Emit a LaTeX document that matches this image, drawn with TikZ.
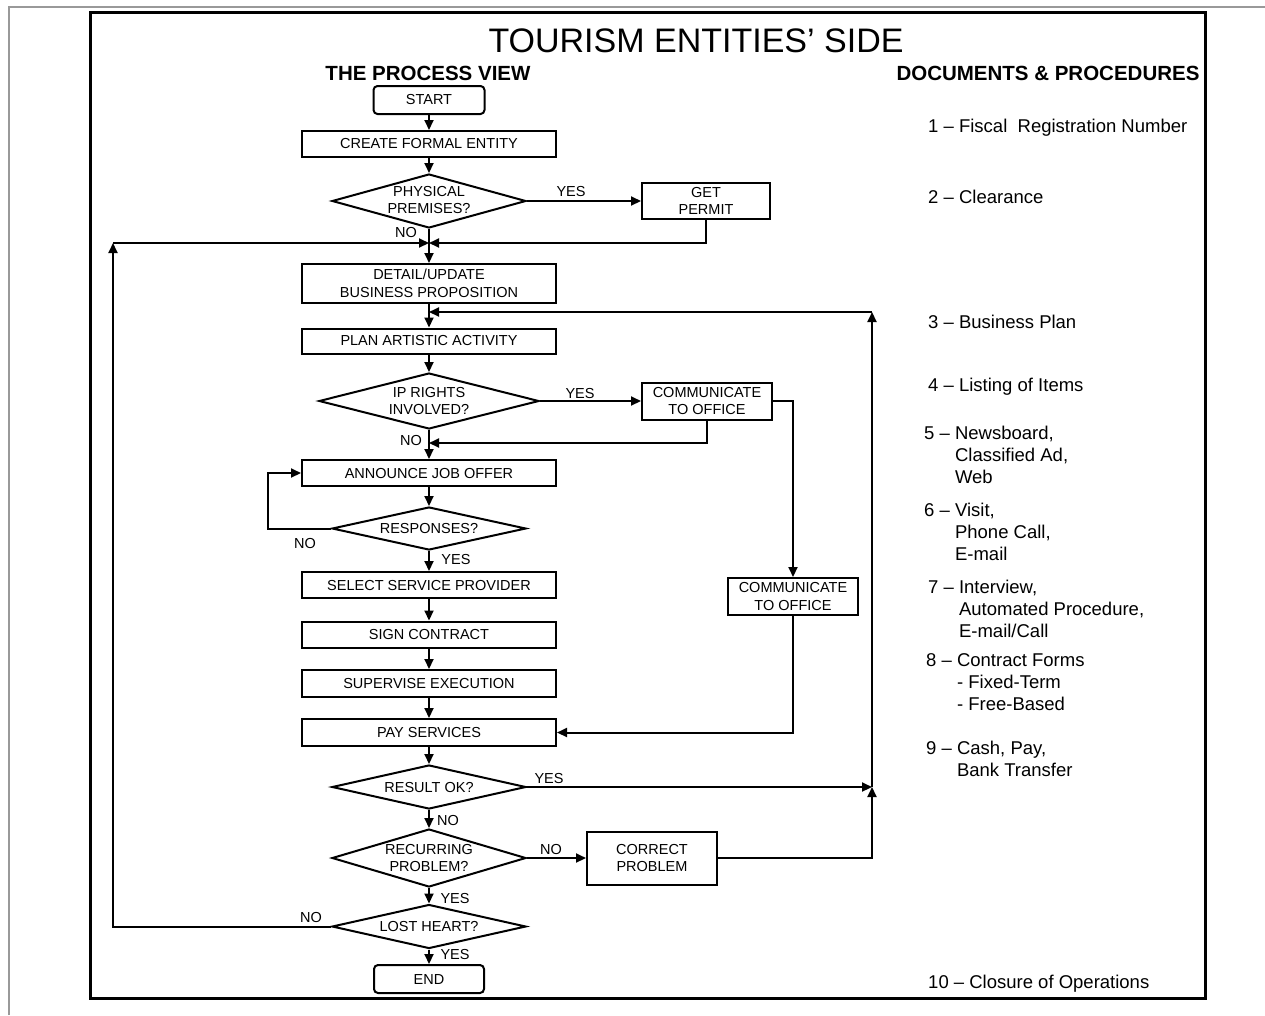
\documentclass[tikz,border=0pt]{standalone}
\usepackage{fontspec}
\setmainfont{Liberation Sans}
\usetikzlibrary{arrows.meta,shapes.geometric}
\newcommand\bxf{\fontsize{14.5}{17.5}\selectfont}
\newcommand\rcf{\fontsize{18.5}{22}\selectfont}
\begin{document}
\begin{tikzpicture}[x=1pt,y=-1pt,
  ln/.style={line width=2pt},
  arr/.style={ln,-{Triangle[length=10pt,width=9pt]}},
  box/.style 2 args={draw,ln,rectangle,inner sep=0pt,minimum width=#1pt,minimum height=#2pt,align=center,font=\bxf},
  term/.style 2 args={box={#1}{#2},rounded corners=4pt},
  dec/.style 2 args={draw,ln,diamond,inner sep=0pt,minimum width=#1pt,minimum height=#2pt},
  dtxt/.style={font=\bxf,align=center,inner sep=0pt},
  yn/.style={font=\bxf,inner sep=0pt},
  doc/.style={font=\rcf,align=left,anchor=base west,inner sep=0pt},
]
\useasboundingbox (0,0) rectangle (1265,1015);
\fill[white] (0,0) rectangle (1265,1015);
\draw[line width=2pt,gray!80] (9,1015) -- (9,7) -- (1265,7);
\draw[line width=3pt] (90,12) rectangle (1205,998);

% headings
\node[font=\fontsize{34}{40}\selectfont,anchor=base,inner sep=0pt] (title) at (696,52) {TOURISM ENTITIES’ SIDE};
\node[font=\fontsize{20.5}{24}\selectfont\bfseries,anchor=base,inner sep=0pt] (hproc) at (428,80) {THE PROCESS VIEW};
\node[font=\fontsize{20.5}{24}\selectfont\bfseries,anchor=base,inner sep=0pt] (hdoc) at (1048,80) {DOCUMENTS \& PROCEDURES};

% process nodes
\node[term={111}{28}] (start) at (429,100) {START};
\node[box={254}{26}] (create) at (429,144) {CREATE FORMAL ENTITY};
\node[dec={194}{54}] (phys) at (429,201) {};
\node[dtxt] (physT) at ([yshift=1pt]phys.center) {PHYSICAL\\PREMISES?};
\node[box={128}{36}] (permit) at (706,201) {GET\\PERMIT};
\node[box={254}{39}] (detail) at (429,283.5) {DETAIL/UPDATE\\BUSINESS PROPOSITION};
\node[box={254}{25}] (plan) at (429,341) {PLAN ARTISTIC ACTIVITY};
\node[dec={220}{56}] (ip) at (429,401) {};
\node[dtxt] (ipT) at (ip.center) {IP RIGHTS\\INVOLVED?};
\node[box={130}{37}] (comm1) at (707,401) {COMMUNICATE\\TO OFFICE};
\node[box={254}{26}] (announce) at (429,473) {ANNOUNCE JOB OFFER};
\node[dec={194}{43}] (resp) at (429,528.5) {};
\node[dtxt] (respT) at (resp.center) {RESPONSES?};
\node[box={254}{26}] (select) at (429,585) {SELECT SERVICE PROVIDER};
\node[box={254}{26}] (sign) at (429,634.5) {SIGN CONTRACT};
\node[box={254}{27}] (superv) at (429,683.5) {SUPERVISE EXECUTION};
\node[box={254}{27}] (pay) at (429,732.5) {PAY SERVICES};
\node[box={130}{37}] (comm2) at (793,596.5) {COMMUNICATE\\TO OFFICE};
\node[dec={194}{44}] (result) at (429,787) {};
\node[dtxt] (resultT) at (result.center) {RESULT OK?};
\node[dec={194}{58}] (recur) at (429,858) {};
\node[dtxt] (recurT) at (recur.center) {RECURRING\\PROBLEM?};
\node[box={130}{53}] (correct) at (652,858) {CORRECT\\PROBLEM};
\node[dec={194}{44}] (lost) at (429,926.5) {};
\node[dtxt] (lostT) at (lost.center) {LOST HEART?};
\node[term={110}{28}] (end) at (429,979) {END};

% helper coordinates
\coordinate (j1) at (429,243);
\coordinate (cl) at (113,243);
\coordinate (cb) at (113,926.5);
\coordinate (j2) at (429,312);
\coordinate (rt) at (872,312);
\coordinate (rm) at (872,787);
\coordinate (j3) at (429,443);
\coordinate (lp) at (268,473);

% connectors
\draw[arr] (start) -- (create);
\draw[arr] (create) -- (phys);
\draw[arr] (phys.east) -- (permit.west);
\draw[arr] (phys.south) -- (detail.north);
\draw[arr] (permit.south) |- (j1);
\draw[arr] (lost.west) -- (cb) -- (cl);
\draw[arr] (cl) -- (j1);
\draw[arr] (detail) -- (plan);
\draw[arr] (rm) -- (rt);
\draw[arr] (rt) -- (j2);
\draw[arr] (plan) -- (ip);
\draw[arr] (ip.east) -- (comm1.west);
\draw[arr] (ip.south) -- (announce.north);
\draw[arr] (comm1.south) |- (j3);
\draw[arr] (comm1.east) -| (comm2.north);
\draw[arr] (comm2.south) |- (pay.east);
\draw[arr] (announce) -- (resp);
\draw[arr] (resp.west) -| (lp) -- (announce.west);
\draw[arr] (resp) -- (select);
\draw[arr] (select) -- (sign);
\draw[arr] (sign) -- (superv);
\draw[arr] (superv) -- (pay);
\draw[arr] (pay) -- (result);
\draw[arr] (result.east) -- (rm);
\draw[arr] (result.south) -- (recur.north);
\draw[arr] (recur.east) -- (correct.west);
\draw[arr] (correct.east) -| (rm);
\draw[arr] (recur.south) -- (lost.north);
\draw[arr] (lost.south) -- (end.north);

% yes/no labels
\node[yn] (l1) at (571,191.5) {YES};
\node[yn] (l2) at (406,232.5) {NO};
\node[yn] (l3) at (580,393) {YES};
\node[yn] (l4) at (411,440) {NO};
\node[yn] (l5) at (305,543) {NO};
\node[yn] (l6) at (456,559.5) {YES};
\node[yn] (l7) at (549,778) {YES};
\node[yn] (l8) at (448,820) {NO};
\node[yn] (l9) at (551,849) {NO};
\node[yn] (l10) at (455,898.5) {YES};
\node[yn] (l11) at (311,917) {NO};
\node[yn] (l12) at (455,954) {YES};

% documents column (base = last line)
\node[doc] (d1) at (928,132) {1 – Fiscal\ \ Registration Number};
\node[doc] (d2) at (928,203) {2 – Clearance};
\node[doc] (d3) at (928,328) {3 – Business Plan};
\node[doc] (d4) at (928,391) {4 – Listing of Items};
\node[doc] (d5) at (924,483) {5 – Newsboard,\\\phantom{5 – }Classified Ad,\\\phantom{5 – }Web};
\node[doc] (d6) at (924,560) {6 – Visit,\\\phantom{6 – }Phone Call,\\\phantom{6 – }E-mail};
\node[doc] (d7) at (928,637) {7 – Interview,\\\phantom{7 – }Automated Procedure,\\\phantom{7 – }E-mail/Call};
\node[doc] (d8) at (926,710) {8 – Contract Forms\\\phantom{8 – }- Fixed-Term\\\phantom{8 – }- Free-Based};
\node[doc] (d9) at (926,776) {9 – Cash, Pay,\\\phantom{9 – }Bank Transfer};
\node[doc] (d10) at (928,988) {10 – Closure of Operations};
\end{tikzpicture}
\end{document}
